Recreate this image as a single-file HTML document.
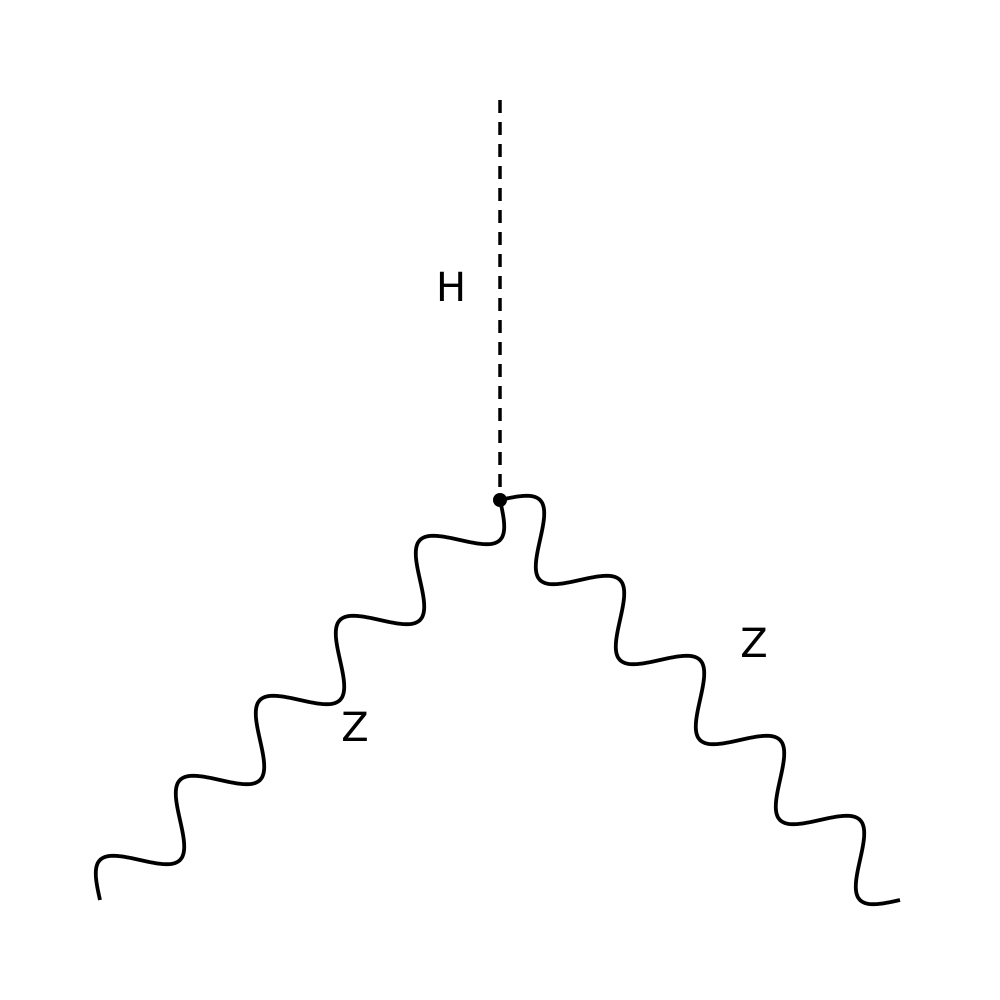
<!DOCTYPE html>
<html><head><meta charset="utf-8"><style>
html,body{margin:0;padding:0;background:#fff;}
svg{display:block;}
text{font-family:"DejaVu Sans","Liberation Sans",sans-serif;font-size:40px;fill:#000;}
</style></head>
<body>
<svg id="diagram" width="1000" height="1000" viewBox="0 0 1000 1000">
<line x1="500" y1="100" x2="500" y2="500" stroke="#000" stroke-width="3.5" stroke-dasharray="13,9"/>
<path id="zleft" fill="none" stroke="#000" stroke-width="3.8" stroke-linecap="butt"/>
<path id="zright" fill="none" stroke="#000" stroke-width="3.8" stroke-linecap="butt"/>
<circle cx="500" cy="500" r="7" fill="#000"/>
<text x="451" y="301" text-anchor="middle">H</text>
<text x="355" y="741" text-anchor="middle">Z</text>
<text x="754" y="657" text-anchor="middle">Z</text>
</svg>
<script>
const vertex = [500, 500];
const leftEnd = [100, 900];
const rightEnd = [900, 900];
const periods = 5;
const amplitude = 28.28;
function wave(a, b, sign) {
  const dx = b[0]-a[0], dy = b[1]-a[1];
  const L = Math.hypot(dx, dy);
  const ux = dx/L, uy = dy/L;
  const nx = -uy*sign, ny = ux*sign;
  const N = 600;
  let d = '';
  for (let i = 0; i <= N; i++) {
    const t = i/N;
    const off = amplitude*Math.sin(2*Math.PI*periods*t);
    const x = a[0]+dx*t+nx*off, y = a[1]+dy*t+ny*off;
    d += (i ? 'L' : 'M') + x.toFixed(2) + ',' + y.toFixed(2);
  }
  return d;
}
document.getElementById('zleft').setAttribute('d', wave(vertex, leftEnd, -1));
document.getElementById('zright').setAttribute('d', wave(vertex, rightEnd, -1));
</script>
</body></html>
